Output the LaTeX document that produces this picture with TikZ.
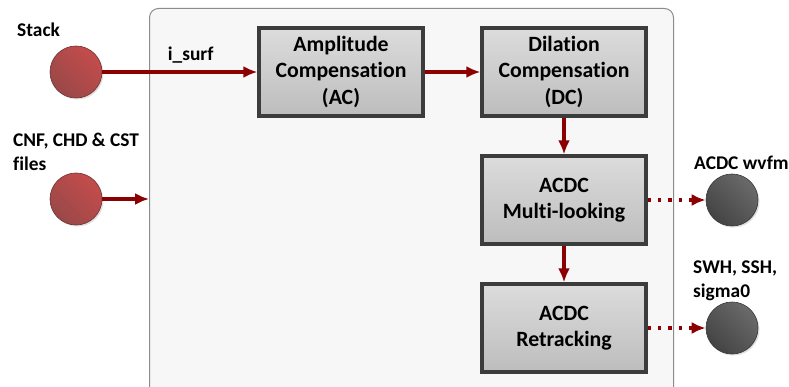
\documentclass[tikz,border=0pt]{standalone}
\usepackage{fontspec}
\setmainfont[Ligatures=NoCommon]{Carlito}
\usetikzlibrary{arrows.meta,shadows}
\definecolor{arrowred}{HTML}{8B0000}
\definecolor{redA}{HTML}{9A4848}
\definecolor{redB}{HTML}{C44C4C}
\definecolor{grayA}{HTML}{444444}
\definecolor{grayB}{HTML}{6A6A6A}
\definecolor{boxA}{HTML}{DCDCDC}
\definecolor{boxB}{HTML}{BDBDBD}
\definecolor{boxline}{HTML}{3C3C3C}
\definecolor{frameline}{HTML}{8C8C8C}
\definecolor{framefill}{HTML}{F7F7F7}
\tikzset{
  procbox/.style={draw=boxline, line width=3.2pt, top color=boxA, bottom color=boxB,
    minimum width=164pt, minimum height=88pt, align=center,
    font=\fontsize{21.8}{26.5}\selectfont\bfseries, inner sep=0pt},
  redball/.style={circle, draw=redA!70!black, line width=0.6pt, minimum size=52pt,
    shading=axis, left color=redA, right color=redB, shading angle=135,
    drop shadow={shadow xshift=1.5pt, shadow yshift=-1.5pt, opacity=0.25}},
  grayball/.style={circle, draw=grayA!80!black, line width=0.6pt, minimum size=52pt,
    shading=axis, left color=grayA, right color=grayB, shading angle=135,
    drop shadow={shadow xshift=1.5pt, shadow yshift=-1.5pt, opacity=0.25}},
  lbl/.style={font=\fontsize{19.4}{23.5}\selectfont\bfseries, align=left, inner sep=0pt},
  flow/.style={draw=arrowred, line width=3.4pt, -{Latex[length=14pt,width=12pt]}},
  dotflow/.style={draw=arrowred, line width=3.4pt, dash pattern=on 3.4pt off 7pt,
    -{Latex[length=14pt,width=12pt]}},
  frame/.style={draw=frameline, line width=1pt, fill=framefill, rounded corners=9pt,
    minimum width=524pt, minimum height=420pt, inner sep=0pt}
}
\begin{document}
\begin{tikzpicture}[x=1pt,y=-1pt]
\useasboundingbox (0,0) rectangle (789,387);
\clip (0,0) rectangle (789,387);
\fill[white] (0,0) rectangle (789,387);
\node[frame, anchor=north west] (fr) at (149,8) {};
% boxes
\node[procbox] (ac) at (341,72) {Amplitude\\Compensation\\(AC)};
\node[procbox] (dc) at (564,72) {Dilation\\Compensation\\(DC)};
\node[procbox] (ml) at (564,200) {ACDC\\Multi-looking};
\node[procbox] (rt) at (564,328) {ACDC\\Retracking};
% inputs
\node[redball] (stack) at (76,72) {};
\node[redball] (cnf) at (76,199) {};
\node[lbl, anchor=west] (lstack) at (17,30) {Stack};
\node[lbl, anchor=west] (lcnf) at (13,152) {CNF, CHD \& CST\\files};
% outputs
\node[grayball] (wv) at (732,200) {};
\node[grayball] (sw) at (732,328) {};
\node[lbl, anchor=west] (lwv) at (694,163) {ACDC wvfm};
\node[lbl, anchor=west] (lsw) at (693,281) {SWH, SSH,\\sigma0};
% connectors
\draw[flow] (stack) -- node[lbl, above=7pt, pos=0.57] (isurf) {i\_surf} (ac);
\draw[flow] (cnf) -- (cnf -| fr.west);
\draw[flow] (ac) -- (dc);
\draw[flow] (dc) -- (ml);
\draw[flow] (ml) -- (rt);
\draw[dotflow] (ml) -- (wv);
\draw[dotflow] (rt) -- (sw);
\end{tikzpicture}
\end{document}
